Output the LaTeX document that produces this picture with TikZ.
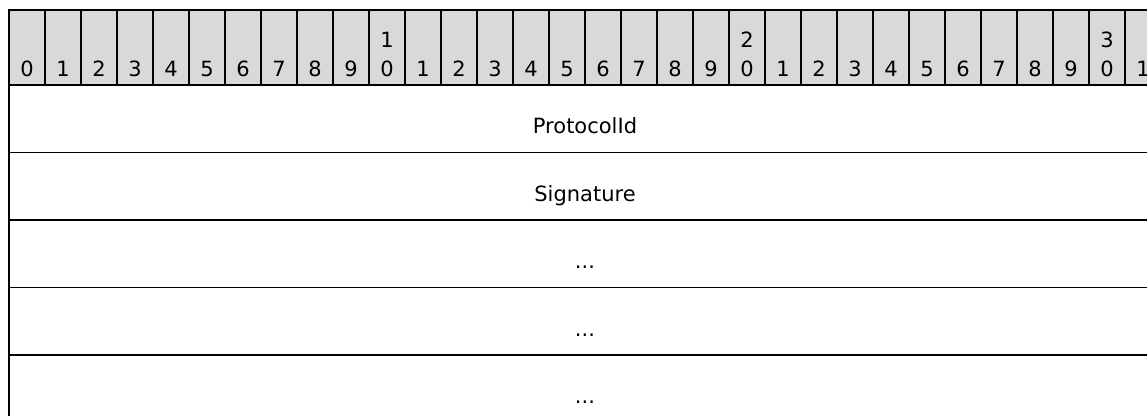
\documentclass[tikz,border=0pt]{standalone}
\usepackage{fontspec}
\setmainfont{DejaVu Sans}
\usetikzlibrary{positioning}
\definecolor{hdrgray}{RGB}{217,217,217}

\begin{document}
\begin{tikzpicture}[x=1pt,y=-1pt,
  bitcell/.style={draw,fill=hdrgray,line width=1.8pt,anchor=north west,inner sep=0pt,outer sep=0pt,
    minimum width=36pt,minimum height=75pt,text height=66.7pt,text depth=8.3pt,font=\fontsize{21}{25}\selectfont},
  tensnum/.style={anchor=base,inner sep=0pt,font=\fontsize{21}{25}\selectfont},
  field/.style={draw,line width=1.8pt,anchor=north west,inner sep=0pt,outer sep=0pt,
    minimum width=1152pt,minimum height=67.5pt,text height=48.5pt,text depth=19pt,font=\fontsize{21}{25}\selectfont}]
\useasboundingbox (0,0) rectangle (1147,415);
\clip (0,0) rectangle (1147,415);
% bit ruler
\foreach \i in {0,...,31}{
  \pgfmathtruncatemacro\onesdigit{mod(\i,10)}
  \pgfmathtruncatemacro\tensdigit{\i/10}
  \node[bitcell] (b\i) at (9+36*\i,10) {\onesdigit};
  \ifnum\onesdigit=0 \ifnum\i>0
    \node[tensnum] (t\i) at ([yshift=29pt]b\i.base) {\tensdigit};
  \fi\fi
}
% fields
\node[field] (protid) at (9,85) {ProtocolId};
\node[field,below=0pt of protid] (sig) {Signature};
\node[field,below=0pt of sig] (more1) {...};
\node[field,below=0pt of more1] (more2) {...};
\node[field,below=0pt of more2] (more3) {...};
\end{tikzpicture}
\end{document}
